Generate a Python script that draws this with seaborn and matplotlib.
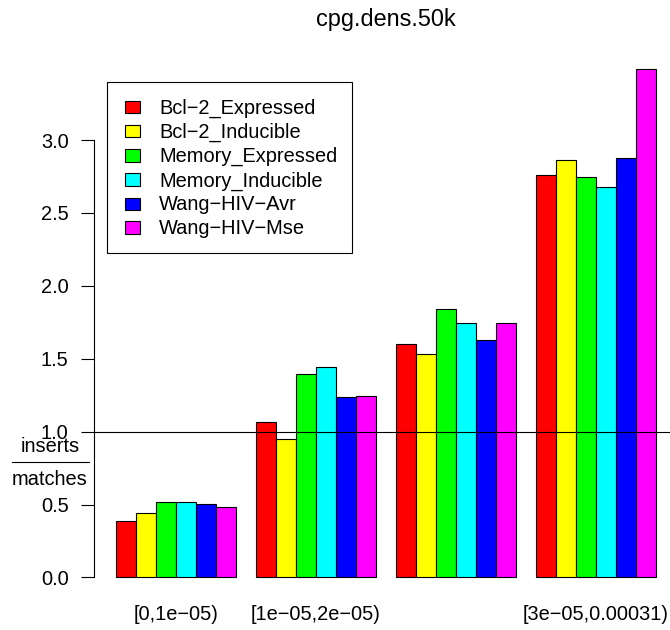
import numpy as np
import pandas as pd
import matplotlib
matplotlib.use("Agg")
import matplotlib.pyplot as plt
from matplotlib.patches import Patch, Rectangle
from matplotlib.legend_handler import HandlerPatch
from matplotlib.lines import Line2D
import seaborn as sns

plt.rcParams['font.family'] = ['Liberation Sans', 'DejaVu Sans']

# ---- data ----
categories = ["[0,1e\u221205)", "[1e\u221205,2e\u221205)", "[2e\u221205,3e\u221205)", "[3e\u221205,0.00031)"]
tick_labels = ["[0,1e\u221205)", "[1e\u221205,2e\u221205)", "", "[3e\u221205,0.00031)"]
series = ["Bcl\u22122_Expressed", "Bcl\u22122_Inducible", "Memory_Expressed",
          "Memory_Inducible", "Wang\u2212HIV\u2212Avr", "Wang\u2212HIV\u2212Mse"]
bcl2_expressed = [0.385, 1.069, 1.599, 2.761]
bcl2_inducible = [0.445, 0.950, 1.533, 2.861]
memory_expressed = [0.516, 1.396, 1.840, 2.749]
memory_inducible = [0.520, 1.444, 1.748, 2.680]
wang_avr = [0.502, 1.238, 1.629, 2.879]
wang_mse = [0.486, 1.245, 1.743, 3.488]
colors = ["#FF0000", "#FFFF00", "#00FF00", "#00FFFF", "#0000FF", "#FF00FF"]
y_ticks = [0.0, 0.5, 1.0, 1.5, 2.0, 2.5, 3.0]

values = [bcl2_expressed, bcl2_inducible, memory_expressed, memory_inducible, wang_avr, wang_mse]
rows = []
for s, vals in zip(series, values):
    for c, v in zip(categories, vals):
        rows.append({"interval": c, "sample": s, "ratio": v})
df = pd.DataFrame(rows)

FS = 14.4
W, H = 670, 630
fig = plt.figure(figsize=(W / 100, H / 100), dpi=100)
left, right, top, bottom = 94.4, 677.6, 48.5, 597.8
ax = fig.add_axes([left / W, 1 - bottom / H, (right - left) / W, (bottom - top) / H])

sns.barplot(data=df, x="interval", y="ratio", hue="sample", order=categories,
            hue_order=series, palette=colors, width=6 / 7, gap=0,
            edgecolor="black", linewidth=0.8, errorbar=None, legend=False,
            saturation=1, ax=ax)

ax.set_xlim(-0.583, 3.583)
ax.set_ylim(-0.1395, 3.628)
ax.axhline(1.0, color="black", lw=0.8, zorder=5)

ax.set_xlabel("")
ax.set_ylabel("")
ax.set_xticks(range(len(categories)))
ax.set_xticklabels(tick_labels)
ax.tick_params(axis="x", length=0, pad=5.5, labelsize=FS)
ax.set_yticks(y_ticks)
ax.set_yticklabels([f"{t:.1f}" for t in y_ticks])
ax.tick_params(axis="y", length=9.4, width=0.8, pad=9.1, labelsize=FS, direction="out")
for sp in ["top", "right", "bottom"]:
    ax.spines[sp].set_visible(False)
ax.spines["left"].set_bounds(0, 3.0)
ax.spines["left"].set_linewidth(0.8)
ax.set_facecolor("white")

ax.set_title("cpg.dens.50k", fontsize=16.9, pad=16.4)

# fraction-style y label
fig.text(50 / W, 1 - 451.7 / H, "inserts", ha="center", va="baseline", fontsize=FS)
fig.text(50 / W, 1 - 485 / H, "matches", ha="center", va="baseline", fontsize=FS)
fig.add_artist(Line2D([11.7 / W, 89.3 / W], [1 - 462.3 / H, 1 - 462.3 / H],
                      transform=fig.transFigure, color="black", lw=0.8))

# legend
def make_box(legend, orig_handle, xdescent, ydescent, width, height, fontsize):
    w = 10.8
    h = 8.9
    return Rectangle((-xdescent + width - w, -ydescent + (height - h) / 2), w, h)

handles = [Patch(facecolor=c, edgecolor="black", linewidth=0.8) for c in colors]
leg = ax.legend(handles, series, loc="upper left",
                bbox_to_anchor=(106.7 / W, 1 - 81.7 / H), bbox_transform=fig.transFigure,
                borderaxespad=0, fontsize=FS, frameon=True, fancybox=False,
                edgecolor="black", framealpha=1, borderpad=0.75, labelspacing=0.14,
                handlelength=0.91, handleheight=1.22, handletextpad=0.95,
                handler_map={Patch: HandlerPatch(patch_func=make_box)})
leg.get_frame().set_linewidth(0.8)

fig.savefig("out.png", dpi=100)
